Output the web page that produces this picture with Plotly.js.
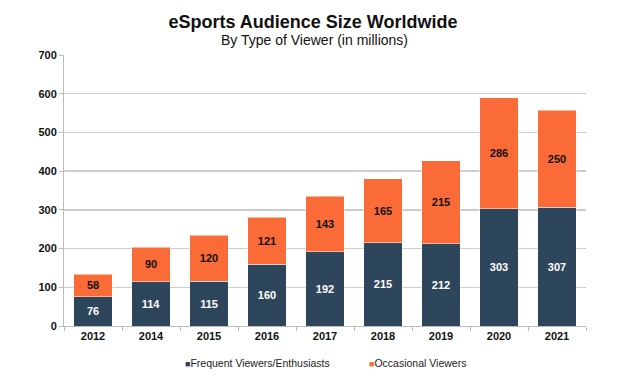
<!DOCTYPE html>
<html><head><meta charset="utf-8">
<script src="https://cdn.plot.ly/plotly-3.0.1.min.js"></script>
<style>html,body{margin:0;padding:0;background:#fff;}#chart{width:640px;height:377px;}</style>
</head><body><div id="chart"></div>
<script>
const years = ['2012','2014','2015','2016','2017','2018','2019','2020','2021'];
const frequent = [76,114,115,160,192,215,212,303,307];
const occasional = [58,90,120,121,143,165,215,286,250];
const yTicks = [0,100,200,300,400,500,600,700];
const seriesNames = ['Frequent Viewers/Enthusiasts','Occasional Viewers'];
const seriesColors = ['#2E465B','#FA6B37'];

const font = 'Liberation Sans, Arial, sans-serif';
const traces = [
  {type:'bar', name:seriesNames[0], x:years, y:frequent,
   text:frequent.map(String), textposition:'inside', insidetextanchor:'middle',
   textfont:{family:font,size:11,color:'#ffffff',weight:'bold'},
   marker:{color:seriesColors[0], line:{color:'#ffffff', width:0.5}}, hoverinfo:'none'},
  {type:'bar', name:seriesNames[1], x:years, y:occasional,
   text:occasional.map(String), textposition:'inside', insidetextanchor:'middle',
   textfont:{family:font,size:11,color:'#111111',weight:'bold'},
   marker:{color:seriesColors[1], line:{color:'#ffffff', width:0.5}}, hoverinfo:'none'}
];
const L=64, R=54, T=55, B=51, W=640, H=377;
const pw = W-L-R, ph = H-T-B;
const px = v => (v-L)/pw;
const py = v => (H-B-v)/ph;
const legendX = [183, 367];
const annotations = [
  {text:'By Type of Viewer (in millions)', xref:'paper', yref:'paper', x:px(314), y:py(40),
   xanchor:'center', yanchor:'middle', showarrow:false, font:{family:font,size:14,color:'#111'}}
];
seriesNames.forEach((n,i)=>{
  annotations.push({text:'<span style="color:'+seriesColors[i]+';font-size:9px">■</span>'+n,
    xref:'paper', yref:'paper', x:px(legendX[i]), y:py(363), xanchor:'left', yanchor:'middle',
    showarrow:false, font:{family:font,size:10.5,color:'#222'}});
});
const layout = {
  width:W, height:H, barmode:'stack', bargap:0.34,
  margin:{l:L, r:R, t:T, b:B},
  paper_bgcolor:'#fff', plot_bgcolor:'#fff',
  font:{family:font},
  title:{text:'<b>eSports Audience Size Worldwide</b>',
         font:{family:font,size:18,color:'#111'}, xref:'paper', x:px(313), xanchor:'center',
         yref:'container', y:1-22/H, yanchor:'middle'},
  xaxis:{type:'category', tickfont:{family:font,size:11,color:'#111',weight:'bold'},
         showline:true, linecolor:'#bbbbbb', linewidth:1, ticks:'outside', ticklen:4, tickcolor:'#bbbbbb',
         tickson:'boundaries', showgrid:false},
  yaxis:{range:[0,700], tickvals:yTicks, ticktext:yTicks.map(String),
         tickfont:{family:font,size:11,color:'#111',weight:'bold'},
         showline:true, linecolor:'#bbbbbb', linewidth:1, ticks:'outside', ticklen:4, tickcolor:'#bbbbbb',
         gridcolor:'#cccccc', gridwidth:1.5, zeroline:false},
  annotations: annotations,
  showlegend:false
};
Plotly.newPlot('chart', traces, layout, {staticPlot:true});
</script></body></html>
